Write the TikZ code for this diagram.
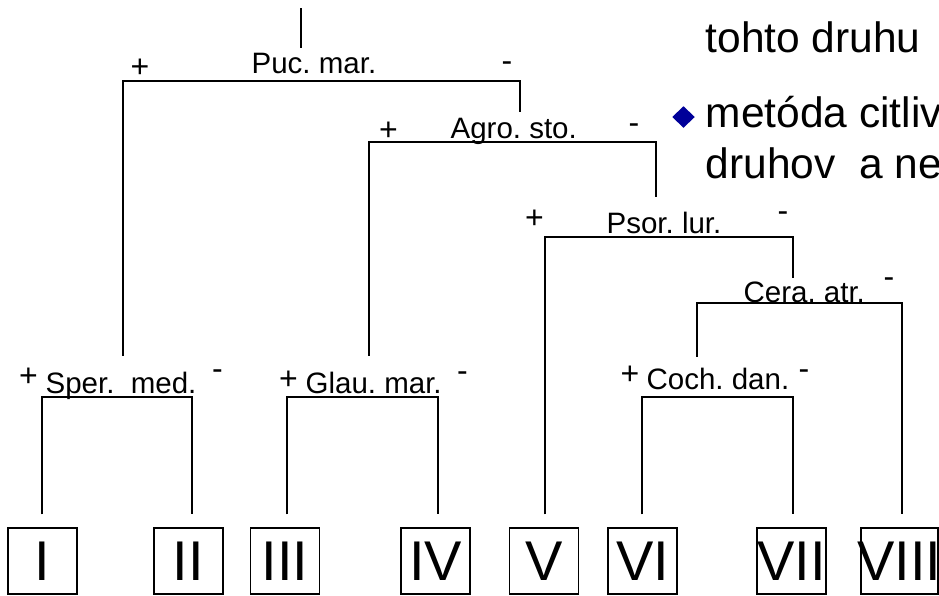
\documentclass[tikz,border=0pt]{standalone}
\usepackage{fontspec}
\setmainfont{Liberation Sans}
\usetikzlibrary{shapes.geometric}
\definecolor{bulletblue}{RGB}{0,0,153}
\tikzstyle{leaf} = [draw, rectangle, minimum width=69pt, minimum height=66pt, inner sep=0pt, font={\fontsize{56pt}{60pt}\selectfont}]
\tikzstyle{split} = [inner sep=0pt, anchor=base west, font={\fontsize{29.5pt}{33pt}\selectfont}]
\tikzstyle{sign} = [inner sep=0pt, font={\fontsize{32pt}{36pt}\selectfont}]
\tikzstyle{slide} = [inner sep=0pt, anchor=base west, font={\fontsize{42.5pt}{50pt}\selectfont}]
\frenchspacing
\begin{document}
\begin{tikzpicture}[x=1pt, y=-1pt, line width=1.2pt]
    \useasboundingbox (0,0) rectangle (939,595);
    % groups at the bottom
    \node [leaf] (l1) at (42.5,561) {\makebox[0pt]{I}};
    \node [leaf] (l2) at (188.5,561) {\makebox[0pt]{II}};
    \node [leaf] (l3) at (285,561) {\makebox[0pt]{III}};
    \node [leaf] (l4) at (435.5,561) {\makebox[0pt]{IV}};
    \node [leaf] (l5) at (544,561) {\makebox[0pt]{V}};
    \node [leaf] (l6) at (642.5,561) {\makebox[0pt]{VI}};
    \node [leaf] (l7) at (791.5,561) {\makebox[0pt]{VII}};
    \node [leaf, minimum width=77pt] (l8) at (899.5,561) {\makebox[0pt]{VIII}};
    % differential species
    \node [split] (puc) at (251,73) {Puc. mar.};
    \node [split] (agr) at (450,138) {Agro. sto.};
    \node [split] (pso) at (606,233) {Psor. lur.};
    \node [split] (cer) at (743,302) {Cera. atr.};
    \node [split] (spe) at (45,393) {Sper.~ med.};
    \node [split] (gla) at (305,393) {Glau. mar.};
    \node [split] (coc) at (646,389) {Coch. dan.};
    % + and - branches
    \node [sign] (pucP) at (140,68) {+};
    \node [sign] (pucM) at (507,67) {-};
    \node [sign] (agrP) at (388.5,131) {+};
    \node [sign] (agrM) at (634,129) {-};
    \node [sign] (psoP) at (534.5,219.5) {+};
    \node [sign] (psoM) at (783,217) {-};
    \node [sign] (cerM) at (889,283) {-};
    \node [sign] (speP) at (28.5,377) {+};
    \node [sign] (speM) at (217.5,375) {-};
    \node [sign] (glaP) at (288.5,380) {+};
    \node [sign] (glaM) at (462.5,377) {-};
    \node [sign] (cocP) at (630,375.5) {+};
    \node [sign] (cocM) at (804,375) {-};
    % corners of the brackets
    \coordinate (root) at (301,8);
    \coordinate (pucL) at (123,81);  \coordinate (pucR) at (520,81);
    \coordinate (agrL) at (369,142); \coordinate (agrR) at (656,142);
    \coordinate (psoL) at (545,237); \coordinate (psoR) at (793,237);
    \coordinate (cerL) at (697,303); \coordinate (cerR) at (902,303);
    \coordinate (speL) at (42,397);  \coordinate (speR) at (192,397);
    \coordinate (glaL) at (287,397); \coordinate (glaR) at (438,397);
    \coordinate (cocL) at (642,397); \coordinate (cocR) at (793,397);
    \draw [shorten >=4pt] (root) -- (root |- puc.north);
    \draw [shorten <=15.5pt, shorten >=5pt] (pucL |- spe.north) -- (pucL) -- (pucR) -- (pucR |- agr.north);
    \draw [shorten <=15.5pt, shorten >=14.5pt] (agrL |- gla.north) -- (agrL) -- (agrR) -- (agrR |- pso.north);
    \draw [shorten <=13pt, shorten >=3.2pt] (psoL |- l5.north) -- (psoL) -- (psoR) -- (psoR |- cer.north);
    \draw [shorten <=10.5pt, shorten >=13pt] (cerL |- coc.north) -- (cerL) -- (cerR) -- (cerR |- l8.north);
    \draw [shorten <=13pt, shorten >=13pt] (speL |- l1.north) -- (speL) -- (speR) -- (speR |- l2.north);
    \draw [shorten <=13pt, shorten >=13pt] (glaL |- l3.north) -- (glaL) -- (glaR) -- (glaR |- l4.north);
    \draw [shorten <=13pt, shorten >=13pt] (cocL |- l6.north) -- (cocL) -- (cocR) -- (cocR |- l7.north);
    % slide text on the right
    \node [slide] (t1) at (705,52) {tohto druhu};
    \node [diamond, fill=bulletblue, minimum width=23pt, minimum height=22pt, inner sep=0pt] (bul) at (683.5,117) {};
    \node [slide] (t2) at (705,127) {metóda citliv};
    \node [slide] (t3) at (705,178) {druhov~ a ne};
\end{tikzpicture}
\end{document}
